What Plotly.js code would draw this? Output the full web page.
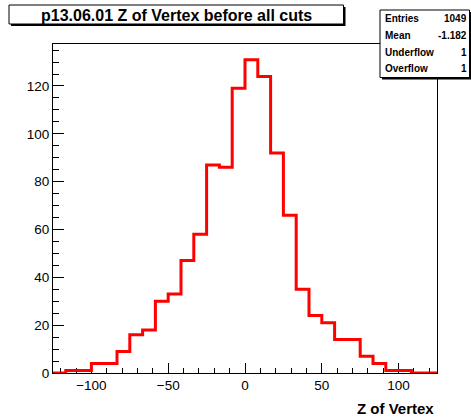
<!DOCTYPE html>
<html>
<head>
<meta charset="utf-8">
<script src="https://cdn.plot.ly/plotly-3.0.1.min.js"></script>
<style>html,body{margin:0;padding:0;background:#fff;}#chart{width:471px;height:420px;}</style>
</head>
<body>
<div id="chart"></div>
<script>
// ---- data ----
const title = "p13.06.01 Z of Vertex before all cuts";
const xTitle = "Z of Vertex";
const xMin = -125, xMax = 125, nBins = 30;
const counts = [0, 1, 1, 4, 4, 9, 16, 18, 30, 33, 47, 58, 87, 86, 119,
                131, 124, 92, 66, 35, 24, 21, 14, 14, 7, 4, 1, 1, 0, 0];
const statLabels = ["Entries", "Mean", "Underflow", "Overflow"];
const statValues = ["1049", "-1.182", "1", "1"];

// ---- layout geometry (pixels) ----
const W = 471, H = 420, L = 53, R = 437, T = 44, B = 373;
const px = x => (x - L) / (R - L);
const py = y => (B - y) / (B - T);

const width = (xMax - xMin) / nBins;
const edges = [];
for (let i = 0; i <= nBins; i++) edges.push(xMin + i * width);
const stepY = counts.concat([counts[counts.length - 1]]);
const yMax = Math.max(...counts) * 1.05;

const FONT = "Liberation Sans, Arial, Helvetica, sans-serif";

const trace = {
  type: "scatter", mode: "lines",
  x: edges, y: stepY,
  line: {shape: "hv", color: "#ff0000", width: 3},
  hoverinfo: "skip", showlegend: false
};

const shapes = [
  // title box shadow + box
  {type: "rect", xref: "paper", yref: "paper", x0: px(11), x1: px(345.5), y0: py(7), y1: py(26), fillcolor: "#000", line: {width: 0}},
  {type: "rect", xref: "paper", yref: "paper", x0: px(9), x1: px(343.5), y0: py(5), y1: py(24), fillcolor: "#fff", line: {color: "#000", width: 1}},
  // stats box shadow + box
  {type: "rect", xref: "paper", yref: "paper", x0: px(382), x1: px(473), y0: py(12), y1: py(79.5), fillcolor: "#000", line: {width: 0}},
  {type: "rect", xref: "paper", yref: "paper", x0: px(380), x1: px(469.5), y0: py(10), y1: py(77.5), fillcolor: "#fff", line: {color: "#000", width: 1}}
];

const annotations = [
  {xref: "paper", yref: "paper", x: px(176), y: py(15.5), text: title, showarrow: false,
   xanchor: "center", yanchor: "middle", font: {family: FONT, size: 16, color: "#000", weight: "bold"}},
  {xref: "paper", yref: "paper", x: px(436), y: py(409), text: xTitle, showarrow: false,
   xanchor: "right", yanchor: "middle", font: {family: FONT, size: 15, color: "#000", weight: "bold"}}
];
const statY = [18.5, 35.5, 52, 68.5];
statLabels.forEach((lab, i) => {
  annotations.push({xref: "paper", yref: "paper", x: px(383), y: py(statY[i]), text: lab, showarrow: false,
    xanchor: "left", yanchor: "middle", font: {family: FONT, size: 10, color: "#000", weight: "bold"}});
  annotations.push({xref: "paper", yref: "paper", x: px(468.5), y: py(statY[i]), text: statValues[i], showarrow: false,
    xanchor: "right", yanchor: "middle", font: {family: FONT, size: 10, color: "#000", weight: "bold"}});
});

const layout = {
  width: W, height: H,
  margin: {l: L, r: W - R, t: T, b: H - B, pad: 0},
  paper_bgcolor: "#fff", plot_bgcolor: "#fff",
  font: {family: FONT, color: "#000"},
  showlegend: false,
  xaxis: {
    range: [xMin, xMax], dtick: 50, tick0: 0,
    ticks: "inside", ticklen: 10, tickwidth: 1, tickcolor: "#000",
    minor: {dtick: 10, ticks: "inside", ticklen: 5, tickwidth: 1, tickcolor: "#000"},
    showgrid: false, zeroline: false, showline: true, linecolor: "#000", linewidth: 1, mirror: true,
    tickfont: {family: FONT, size: 13.5, color: "#000"},
    layer: "below traces", fixedrange: true
  },
  yaxis: {
    range: [0, yMax], dtick: 20, tick0: 0,
    ticks: "inside", ticklen: 11, tickwidth: 1, tickcolor: "#000",
    minor: {dtick: 5, ticks: "inside", ticklen: 6, tickwidth: 1, tickcolor: "#000"},
    showgrid: false, zeroline: false, showline: true, linecolor: "#000", linewidth: 1, mirror: true,
    tickfont: {family: FONT, size: 13.5, color: "#000"},
    layer: "below traces", fixedrange: true
  },
  shapes: shapes,
  annotations: annotations
};

Plotly.newPlot("chart", [trace], layout, {displayModeBar: false, staticPlot: true});
</script>
</body>
</html>
